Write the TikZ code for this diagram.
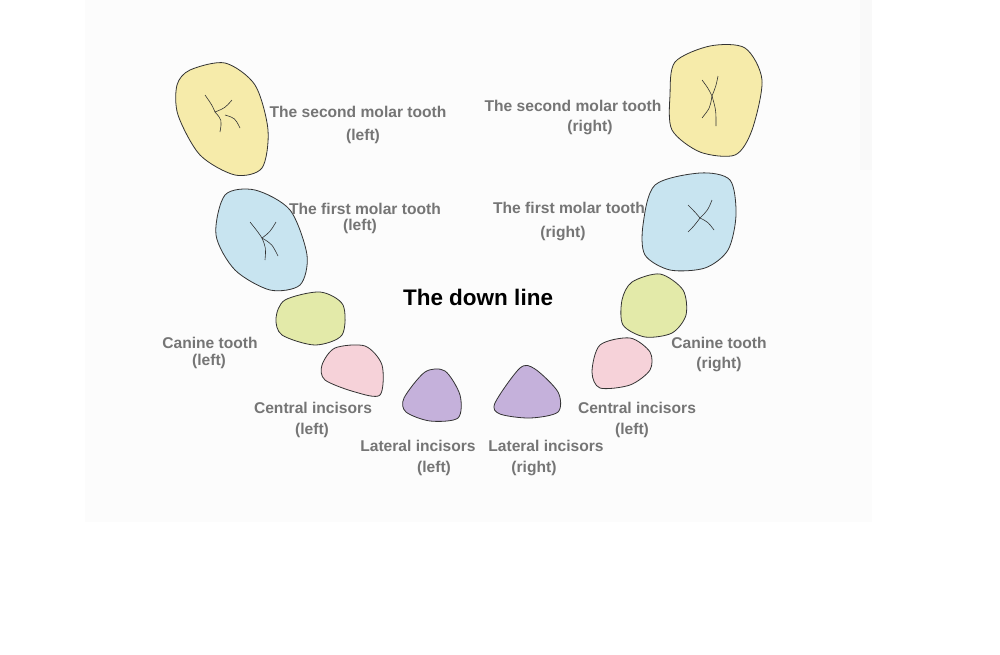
\documentclass[tikz,border=0pt]{standalone}
\usepackage{fontspec}
\setmainfont{Liberation Sans}
\definecolor{molartwo}{HTML}{F6EBAA}
\definecolor{molarone}{HTML}{C8E4F0}
\definecolor{canine}{HTML}{E3EAA9}
\definecolor{central}{HTML}{F6D2D9}
\definecolor{lateral}{HTML}{C5B1DB}
\definecolor{labelgray}{HTML}{757575}
\tikzset{
	tooth/.style={draw=black!80, line width=0.8pt, fill=#1},
	fissure/.style={draw=black!80, line width=0.6pt},
	lbl/.style={text=labelgray, font=\bfseries\fontsize{15.6}{17}\selectfont, inner sep=0pt}
}
\begin{document}
\begin{tikzpicture}[x=1pt,y=-1pt]
	\useasboundingbox (0,0) rectangle (1000,654);
	\fill[white] (0,0) rectangle (1000,654);
	\fill[black!1] (85,0) rectangle (872,522);
	\fill[black!2.5] (860,0) rectangle (872,170);

	% left side
	\draw[tooth=molartwo] plot[smooth cycle] coordinates {(190,70) (225,63) (255,85) (268,130) (262,168) (235,175) (200,155) (178,115) (177,85)};
	\draw[fissure] (205,95) .. controls (212,105) .. (215,112) .. controls (225,108) .. (232,100);
	\draw[fissure] (215,112) .. controls (222,120) .. (220,132);
	\draw[fissure] (225,115) .. controls (235,118) .. (240,128);
	\draw[tooth=molarone] plot[smooth cycle] coordinates {(225,195) (255,190) (290,210) (307,255) (300,285) (270,290) (235,270) (216,235)};
	\draw[fissure] (250,222) .. controls (258,232) .. (262,238) .. controls (270,232) .. (276,222);
	\draw[fissure] (262,238) .. controls (266,248) .. (265,260);
	\draw[fissure] (262,238) .. controls (272,244) .. (278,256);
	\draw[tooth=canine] plot[smooth cycle] coordinates {(285,300) (320,292) (343,305) (342,335) (315,345) (282,335) (276,318)};
	\draw[tooth=central] plot[smooth cycle] coordinates {(335,348) (365,346) (382,365) (380,395) (355,392) (325,380) (322,365)};
	\draw[tooth=lateral] plot[smooth cycle] coordinates {(425,372) (445,371) (460,395) (458,418) (430,421) (406,412) (404,398)};

	% right side
	\draw[tooth=lateral] plot[smooth cycle] coordinates {(520,368) (535,369) (558,392) (558,412) (530,418) (500,414) (495,403)};
	\draw[tooth=central] plot[smooth cycle] coordinates {(600,345) (630,338) (650,352) (650,370) (630,385) (600,388) (592,372)};
	\draw[tooth=canine] plot[smooth cycle] coordinates {(632,282) (660,274) (683,290) (686,315) (672,333) (645,337) (623,325) (622,300)};
	\draw[tooth=molarone] plot[smooth cycle] coordinates {(655,185) (700,173) (730,180) (736,215) (728,250) (705,268) (670,270) (645,255) (643,225)};
	\draw[fissure] (688,205) .. controls (695,212) .. (700,218) .. controls (708,210) .. (712,200);
	\draw[fissure] (700,218) .. controls (694,226) .. (688,232);
	\draw[fissure] (700,218) .. controls (708,222) .. (714,230);
	\draw[tooth=molartwo] plot[smooth cycle] coordinates {(675,62) (710,46) (745,48) (762,80) (752,130) (735,155) (700,152) (672,130) (670,95)};
	\draw[fissure] (702,80) .. controls (708,88) .. (712,96) .. controls (716,86) .. (718,76);
	\draw[fissure] (712,96) .. controls (710,108) .. (702,118);
	\draw[fissure] (712,96) .. controls (716,110) .. (716,126);

	% labels
	\node[lbl] (m2l) at (358,112) {The second molar tooth};
	\node[lbl] (m2lb) at (363,136) {(left)};
	\node[lbl] (m1l) at (365,209) {The first molar tooth};
	\node[lbl] (m1lb) at (360,226) {(left)};
	\node[lbl] (m2r) at (573,106) {The second molar tooth};
	\node[lbl] (m2rb) at (590,127) {(right)};
	\node[lbl] (m1r) at (569,208) {The first molar tooth};
	\node[lbl] (m1rb) at (563,233) {(right)};
	\node[inner sep=0pt, font=\bfseries\fontsize{22.5}{24}\selectfont] (title) at (478,297) {The down line};
	\node[lbl] (cl) at (210,343) {Canine tooth};
	\node[lbl] (clb) at (209,361) {(left)};
	\node[lbl] (cr) at (719,343) {Canine tooth};
	\node[lbl] (crb) at (719,364) {(right)};
	\node[lbl] (ic) at (313,408) {Central incisors};
	\node[lbl] (icb) at (312,430) {(left)};
	\node[lbl] (icr) at (637,408) {Central incisors};
	\node[lbl] (icrb) at (632,430) {(left)};
	\node[lbl] (il) at (418,446) {Lateral incisors};
	\node[lbl] (ilb) at (434,468) {(left)};
	\node[lbl] (ir) at (546,446) {Lateral incisors};
	\node[lbl] (irb) at (534,468) {(right)};
\end{tikzpicture}
\end{document}
